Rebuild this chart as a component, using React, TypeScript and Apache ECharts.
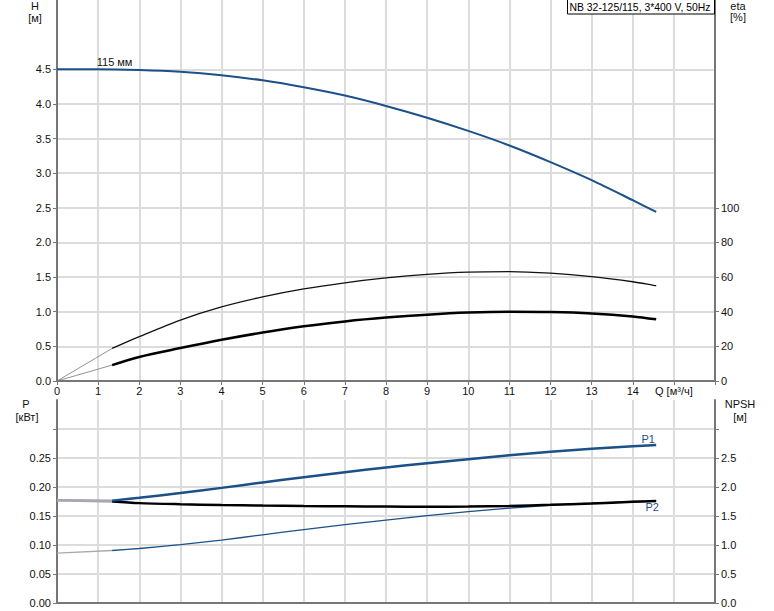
import React, { useEffect, useRef } from 'react';
import * as echarts from 'echarts';

// ---- data ----
const hQ = [0, 1, 2, 3, 4, 5, 6, 7, 8, 9, 10, 11, 12, 13, 14, 14.57];
const hVals = [4.5, 4.5, 4.49, 4.465, 4.415, 4.34, 4.24, 4.12, 3.97, 3.80, 3.61, 3.40, 3.16, 2.90, 2.61, 2.44];

const curveQ = [1.34, 2, 3, 4, 5, 6, 7, 8, 9, 10, 11, 12, 13, 14, 14.57];
const eta1 = [18.8, 25.6, 35.2, 42.8, 48.6, 53.2, 56.7, 59.5, 61.6, 62.9, 63.2, 62.3, 60.3, 57.3, 55.0];
const eta2 = [9.2, 13.9, 19.0, 23.8, 28.0, 31.6, 34.4, 36.6, 38.3, 39.5, 40.0, 39.8, 39.0, 37.3, 35.6];
const p1 = [0.1765, 0.1815, 0.1895, 0.1985, 0.2078, 0.217, 0.2255, 0.2335, 0.241, 0.248, 0.2548, 0.2608, 0.266, 0.2703, 0.2724];
const p2 = [0.175, 0.1722, 0.1703, 0.169, 0.168, 0.1672, 0.1666, 0.1662, 0.166, 0.1662, 0.1672, 0.1692, 0.1716, 0.1744, 0.1759];
const npsh = [0.905, 0.94, 1.005, 1.085, 1.175, 1.265, 1.35, 1.43, 1.505, 1.575, 1.635, 1.685, 1.72, 1.75, 1.76];

// lead-in (gray) segments from Q=0 to the first curve point
const leadQ = [0, 1.34];
const eta1Lead = [0, 18.8];
const eta2Lead = [0, 9.2];
const p1Lead = [0.177, 0.1765];
const p2Lead = [0.177, 0.175];
const npshLead = [0.86, 0.905];

const hTickLabels = [0, 0.5, 1, 1.5, 2, 2.5, 3, 3.5, 4, 4.5];
const etaTickLabels = [0, 20, 40, 60, 80, 100];
const pTicks = [0, 0.05, 0.1, 0.15, 0.2, 0.25, 0.3];
const pTickLabels = [0, 0.05, 0.1, 0.15, 0.2, 0.25];
const npshTicks = [0, 0.5, 1, 1.5, 2, 2.5, 3];
const npshTickLabels = [0, 0.5, 1, 1.5, 2, 2.5];
const qLabelName = 'Q [м³/ч]';
const titleText = 'NB 32-125/115, 3*400 V, 50Hz';
const curveName = '115 мм';

const zip = (xs: number[], ys: number[]) => xs.map((x, i) => [x, ys[i]]);

const FONT = 'Liberation Sans, Arial, sans-serif';
const BLUE = '#1b5089';
const GRID = '#dcdcdc';
const AXIS = '#777777';
const LEAD = '#a8a8b0';

export default function App() {
  const ref = useRef<HTMLDivElement>(null);
  useEffect(() => {
    if (!ref.current) return;
    const chart = echarts.init(ref.current, null, { renderer: 'svg' });
    const label = { color: '#111', fontFamily: FONT, fontSize: 11 };
    const lineSeries = (name: string, xi: number, yi: number, data: number[][], color: string, width: number, extra: any = {}) => ({
      name,
      type: 'line',
      xAxisIndex: xi,
      yAxisIndex: yi,
      data,
      showSymbol: false,
      smooth: 0.3,
      lineStyle: { color, width },
      itemStyle: { color },
      silent: true,
      ...extra,
    });
    const txt = (x: number, y: number, text: string) => ({
      type: 'text', x, y,
      style: { text, fontFamily: FONT, fontSize: 11, fill: '#111', align: 'center', verticalAlign: 'middle' },
    });
    const option: any = {
      animation: false,
      textStyle: { fontFamily: FONT },
      grid: [
        { left: 57, top: 0, width: 658, height: 381, containLabel: false },
        { left: 57, top: 400, width: 658, height: 203, containLabel: false },
      ],
      xAxis: [
        {
          type: 'value', gridIndex: 0, min: 0, max: 16, interval: 1,
          axisLine: { show: true, onZero: false, lineStyle: { color: AXIS, width: 2 } },
          axisTick: { show: true, length: 4, lineStyle: { color: AXIS } },
          axisLabel: {
            ...label, margin: 4,
            formatter: (v: number) => (v === 15 ? qLabelName : v === 16 ? '' : String(v)),
          },
          splitLine: { show: true, lineStyle: { color: GRID, width: 2 } },
        },
        {
          type: 'value', gridIndex: 1, min: 0, max: 16, interval: 1,
          axisLine: { show: true, onZero: false, lineStyle: { color: AXIS, width: 2 } },
          axisTick: { show: false },
          axisLabel: { show: false },
          splitLine: { show: true, lineStyle: { color: GRID, width: 2 } },
        },
      ],
      yAxis: [
        {
          type: 'value', gridIndex: 0, position: 'left', min: 0, max: 5.5, interval: 0.5,
          axisLine: { show: true, lineStyle: { color: AXIS, width: 2 } },
          axisTick: { show: true, length: 4, lineStyle: { color: AXIS }, customValues: hTickLabels },
          axisLabel: { ...label, margin: 6, customValues: hTickLabels, formatter: (v: number) => v.toFixed(1) },
          splitLine: { show: true, lineStyle: { color: GRID, width: 2 } },
        },
        {
          type: 'value', gridIndex: 0, position: 'right', min: 0, max: 220, interval: 20,
          axisLine: { show: true, lineStyle: { color: AXIS, width: 2 } },
          axisTick: { show: true, length: 4, lineStyle: { color: AXIS }, customValues: etaTickLabels },
          axisLabel: { ...label, margin: 6, customValues: etaTickLabels },
          splitLine: { show: false },
        },
        {
          type: 'value', gridIndex: 1, position: 'left', min: 0, max: 0.35, interval: 0.05,
          axisLine: { show: true, lineStyle: { color: AXIS, width: 2 } },
          axisTick: { show: true, length: 4, lineStyle: { color: AXIS }, customValues: pTicks },
          axisLabel: { ...label, margin: 6, customValues: pTickLabels, formatter: (v: number) => v.toFixed(2) },
          splitLine: { show: true, lineStyle: { color: GRID, width: 2 } },
        },
        {
          type: 'value', gridIndex: 1, position: 'right', min: 0, max: 3.5, interval: 0.5,
          axisLine: { show: true, lineStyle: { color: AXIS, width: 2 } },
          axisTick: { show: true, length: 4, lineStyle: { color: AXIS }, customValues: npshTicks },
          axisLabel: { ...label, margin: 6, customValues: npshTickLabels, formatter: (v: number) => v.toFixed(1) },
          splitLine: { show: false },
        },
      ],
      series: [
        lineSeries('H', 0, 0, zip(hQ, hVals), BLUE, 2, {
          markPoint: {
            symbol: 'circle', symbolSize: 0, silent: true,
            data: [{ coord: [1.4, 4.5], value: curveName }],
            label: { show: true, position: 'top', distance: 2, formatter: curveName, ...label },
          },
        }),
        lineSeries('eta1-lead', 0, 1, zip(leadQ, eta1Lead), '#777', 0.8, { smooth: false }),
        lineSeries('eta2-lead', 0, 1, zip(leadQ, eta2Lead), '#777', 0.8, { smooth: false }),
        lineSeries('eta1', 0, 1, zip(curveQ, eta1), '#111', 1.3),
        lineSeries('eta2', 0, 1, zip(curveQ, eta2), '#000', 2.5),
        lineSeries('npsh-lead', 1, 3, zip(leadQ, npshLead), LEAD, 1.3, { smooth: false }),
        lineSeries('p1-lead', 1, 2, zip(leadQ, p1Lead), LEAD, 2.5, { smooth: false }),
        lineSeries('p2-lead', 1, 2, zip(leadQ, p2Lead), LEAD, 2.5, { smooth: false }),
        lineSeries('NPSH', 1, 3, zip(curveQ, npsh), BLUE, 1.3),
        lineSeries('P2', 1, 2, zip(curveQ, p2), '#000', 2.5, {
          markPoint: {
            symbol: 'circle', symbolSize: 0, silent: true,
            data: [{ coord: [curveQ[curveQ.length - 1], p2[p2.length - 1]], value: 'P2' }],
            label: { show: true, position: 'bottom', distance: 1, offset: [-4, 0], formatter: 'P2', ...label, color: BLUE },
          },
        }),
        lineSeries('P1', 1, 2, zip(curveQ, p1), BLUE, 2.5, {
          markPoint: {
            symbol: 'circle', symbolSize: 0, silent: true,
            data: [{ coord: [curveQ[curveQ.length - 1], p1[p1.length - 1]], value: 'P1' }],
            label: { show: true, position: 'top', distance: 1, offset: [-8, 0], formatter: 'P1', ...label, color: BLUE },
          },
        }),
      ],
      graphic: [
        { type: 'rect', shape: { x: 567.5, y: -1, width: 147, height: 15 }, style: { fill: '#fff', stroke: '#000', lineWidth: 1 }, z: 10 },
        { type: 'text', x: 569.5, y: 7, style: { text: titleText, fontFamily: FONT, fontSize: 10.4, fill: '#000', verticalAlign: 'middle', align: 'left' }, z: 11 },
        txt(35, 6, 'H'),
        txt(35, 18, '[м]'),
        txt(738, 6, 'eta'),
        txt(738, 17, '[%]'),
        txt(26, 404, 'P'),
        txt(27, 417, '[кВт]'),
        txt(740, 404, 'NPSH'),
        txt(740, 417, '[м]'),
      ],
    };
    chart.setOption(option);
    return () => chart.dispose();
  }, []);
  return <div ref={ref} style={{ position: 'fixed', left: 0, top: 0, width: 774, height: 611, background: '#fff' }} />;
}
